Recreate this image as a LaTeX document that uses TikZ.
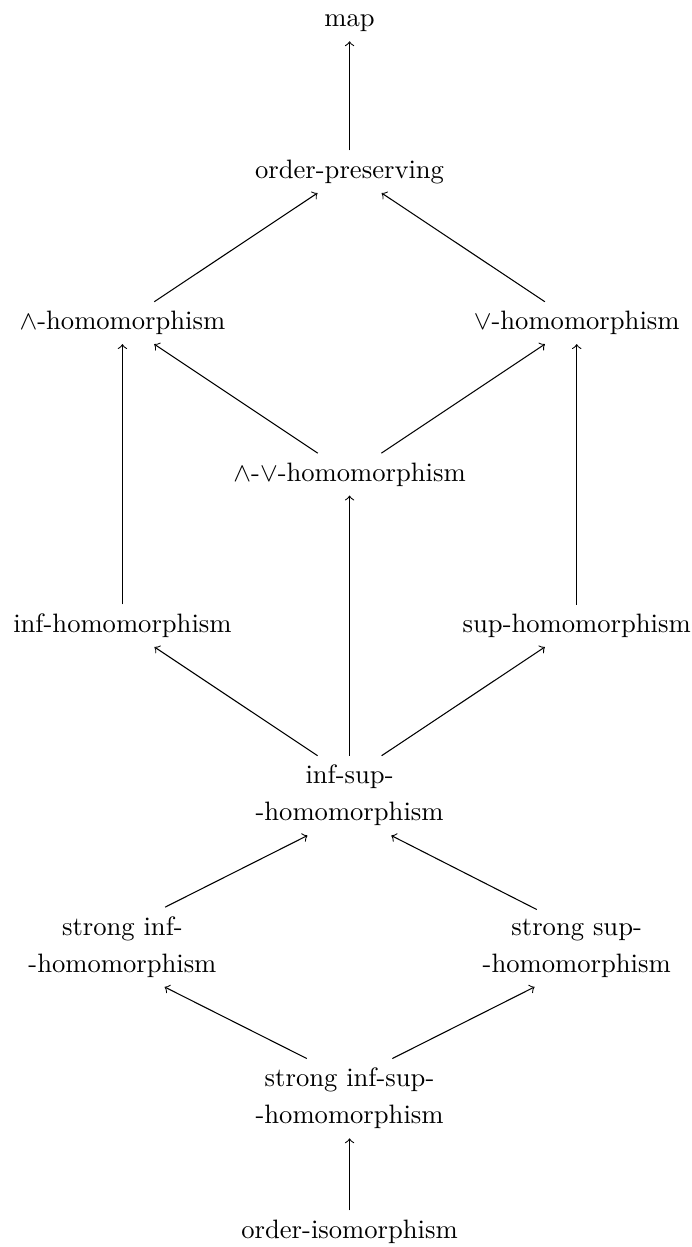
\documentclass[tikz,border=0pt]{standalone}
\usepackage{tikz}
\usetikzlibrary{positioning}

\begin{document}
\begin{tikzpicture}[hnode/.style={anchor=base}, arr/.style={->}]
	\useasboundingbox (0,0) rectangle (9.13,-16.47);
	\node[hnode] (map) at (4.617,-0.353) {map};
	\node[hnode] (orderpres) at (4.617,-2.353) {order-preserving};
	\node[hnode] (meethom) at (1.617,-4.353) {$\wedge$-homomorphism};
	\node[hnode] (joinhom) at (7.617,-4.353) {$\vee$-homomorphism};
	\node[hnode] (latthom) at (4.617,-6.353) {$\wedge$-$\vee$-homomorphism};
	\node[hnode] (infhom) at (1.617,-8.353) {inf-homomorphism};
	\node[hnode] (suphom) at (7.617,-8.353) {sup-homomorphism};
	\node[hnode] (infsuptop) at (4.617,-10.353) {inf-sup-};
	\node[hnode] (infsupbot) [below=0.49cm of infsuptop.base, anchor=base] {-homomorphism};
	\node[hnode] (stronginftop) at (1.617,-12.353) {strong inf-};
	\node[hnode] (stronginfbot) [below=0.49cm of stronginftop.base, anchor=base] {-homomorphism};
	\node[hnode] (strongsuptop) at (7.617,-12.353) {strong sup-};
	\node[hnode] (strongsupbot) [below=0.49cm of strongsuptop.base, anchor=base] {-homomorphism};
	\node[hnode] (stronginfsuptop) at (4.617,-14.353) {strong inf-sup-};
	\node[hnode] (stronginfsupbot) [below=0.49cm of stronginfsuptop.base, anchor=base] {-homomorphism};
	\node[hnode] (orderiso) at (4.617,-16.353) {order-isomorphism};
	\draw[arr] (orderpres) -- (map);
	\draw[arr] (meethom) -- (orderpres);
	\draw[arr] (joinhom) -- (orderpres);
	\draw[arr] (latthom) -- (meethom);
	\draw[arr] (latthom) -- (joinhom);
	\draw[arr] (infhom) -- (meethom);
	\draw[arr] (suphom) -- (joinhom);
	\draw[arr] (infsuptop) -- (infhom);
	\draw[arr] (infsuptop) -- (latthom);
	\draw[arr] (infsuptop) -- (suphom);
	\draw[arr] (stronginftop) -- (infsupbot);
	\draw[arr] (strongsuptop) -- (infsupbot);
	\draw[arr] (stronginfsuptop) -- (stronginfbot);
	\draw[arr] (stronginfsuptop) -- (strongsupbot);
	\draw[arr] (orderiso) -- (stronginfsupbot);
\end{tikzpicture}
\end{document}
